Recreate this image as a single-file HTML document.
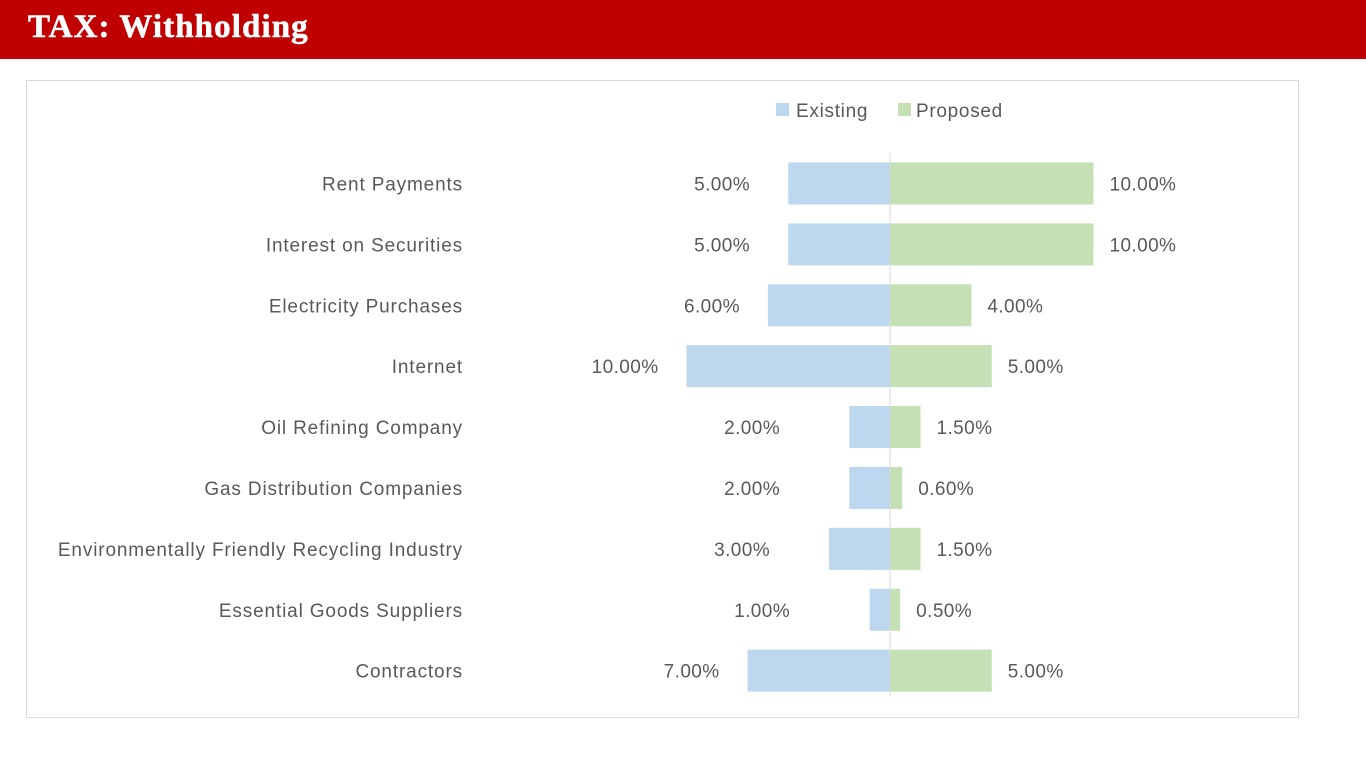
<!DOCTYPE html>
<html><head><meta charset="utf-8">
<style>
body{margin:0;width:1366px;height:768px;background:#fff;overflow:hidden;position:relative;font-family:"Liberation Sans",sans-serif}
#hdr{position:absolute;left:0;top:0;width:1366px;height:59px;background:#c00000}
#title{position:absolute;left:28px;top:9px;font:bold 33px "Liberation Serif",serif;color:#fff;letter-spacing:1.1px;-webkit-text-stroke:0.6px #fff}
#box{position:absolute;left:26px;top:80px;width:1271px;height:636px;border:1px solid #d9d9d9}
svg text{font-family:"Liberation Sans",sans-serif;fill:#595959}
</style></head><body>
<div id="hdr"><div id="title">TAX: Withholding</div></div>
<div id="box"></div>
<svg id="chart" width="1366" height="768" style="position:absolute;left:0;top:0">
<g>
<rect x="776" y="103" width="13" height="13" fill="#bdd7ee"/>
<text x="796" y="117" font-size="19" letter-spacing="0.7">Existing</text>
<rect x="898" y="103" width="13" height="13" fill="#c5e0b4"/>
<text x="916" y="117" font-size="19" letter-spacing="0.7">Proposed</text>
</g>
</svg>
<script>
const categories=["Rent Payments","Interest on Securities","Electricity Purchases","Internet","Oil Refining Company","Gas Distribution Companies","Environmentally Friendly Recycling Industry","Essential Goods Suppliers","Contractors"];
const existing=[5,5,6,10,2,2,3,1,7];
const proposed=[10,10,4,5,1.5,0.6,1.5,0.5,5];
const svg=document.getElementById('chart');
const NS='http://www.w3.org/2000/svg';
const cx=890,pxPer=20.35,top0=153,rowH=60.9,barH=42;
const xR=v=>cx+v*pxPer, xL=v=>cx-v*pxPer, yC=i=>top0+rowH*(i+0.5);
function mk(t,a){const e=document.createElementNS(NS,t);for(const k in a)e.setAttribute(k,a[k]);svg.appendChild(e);return e;}
categories.forEach((c,i)=>{
  const y=yC(i);
  let t=mk('text',{x:463,y:y+7,'font-size':19,'text-anchor':'end','letter-spacing':0.85});t.textContent=c;
  
  
  let b=mk('rect',{x:xL(existing[i]),y:y-barH/2,width:existing[i]*pxPer,height:barH,fill:'#bdd7ee'});
  
  
  let g=mk('rect',{x:cx,y:y-barH/2,width:proposed[i]*pxPer,height:barH,fill:'#c5e0b4'});
  
  
  const lr=Math.min(800-10*existing[i],xL(existing[i])-28);
  let le=mk('text',{x:lr,y:y+7,'font-size':19,'text-anchor':'end','letter-spacing':0.4});le.textContent=existing[i].toFixed(2)+'%';
  
  
  let lp=mk('text',{x:xR(proposed[i])+16,y:y+7,'font-size':19,'letter-spacing':0.4});lp.textContent=proposed[i].toFixed(2)+'%';
  
  
});
const ax=mk('line',{x1:cx,x2:cx,y1:top0,y2:top0+rowH*categories.length-5,stroke:'#d9d9d9','stroke-width':1});


</script>
</body></html>
